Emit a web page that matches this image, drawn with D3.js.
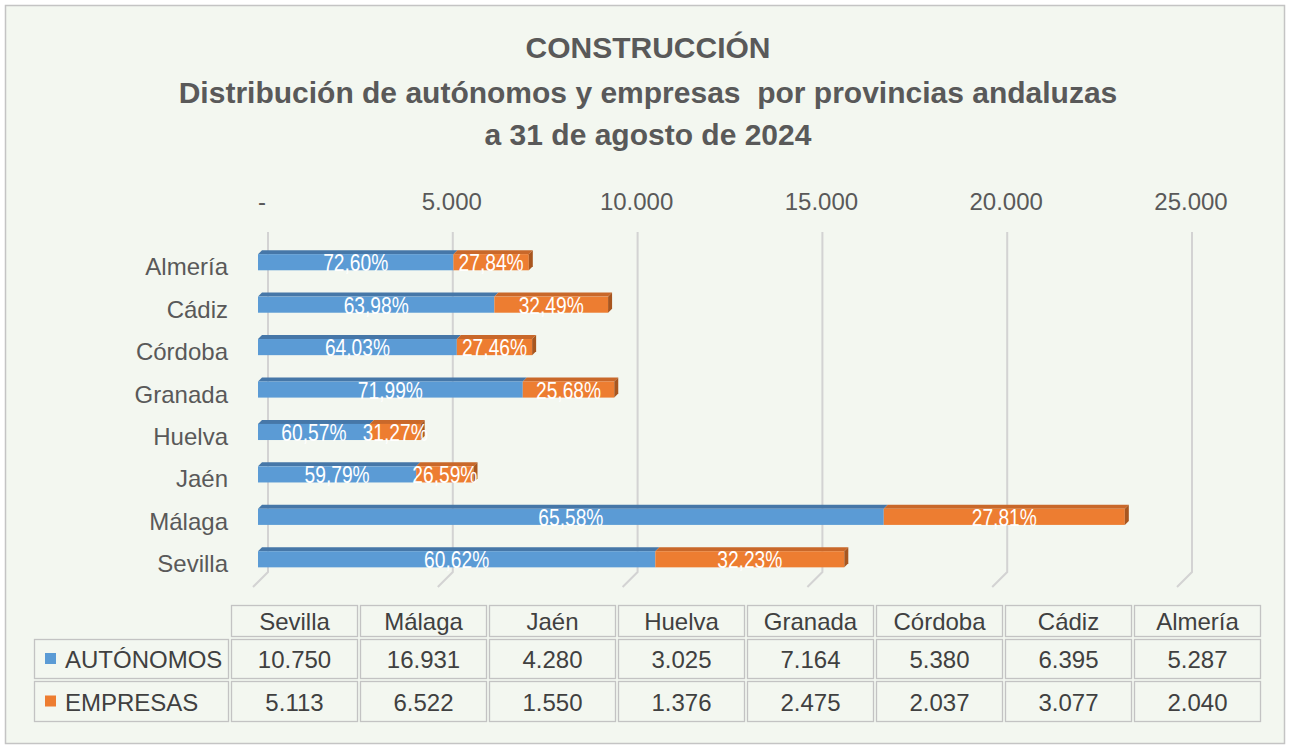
<!DOCTYPE html>
<html>
<head>
<meta charset="utf-8">
<script src="https://cdnjs.cloudflare.com/ajax/libs/d3/7.8.5/d3.min.js"></script>
<style>
  body { margin: 0; background: #ffffff; }
  svg { display: block; }
</style>
</head>
<body>
<script>
// chart data
var provincias = ["Almería", "Cádiz", "Córdoba", "Granada", "Huelva", "Jaén", "Málaga", "Sevilla"];
var autonomos  = [5287, 6395, 5380, 7164, 3025, 4280, 16931, 10750];
var empresas   = [2040, 3077, 2037, 2475, 1376, 1550, 6522, 5113];
var pctAutonomos = ["72,60%", "63,98%", "64,03%", "71,99%", "60,57%", "59,79%", "65,58%", "60,62%"];
var pctEmpresas  = ["27,84%", "32,49%", "27,46%", "25,68%", "31,27%", "26,59%", "27,81%", "32,23%"];
var ticks = [0, 5000, 10000, 15000, 20000, 25000];
// table goes the other way round
var tablaOrden = ["Sevilla", "Málaga", "Jaén", "Huelva", "Granada", "Córdoba", "Cádiz", "Almería"];
var series = ["AUTÓNOMOS", "EMPRESAS"];

var w = 1291, h = 749;
var azul = "#5b9bd5", azulTop = "#4677a8";
var naranja = "#ed7d31", naranjaTop = "#c9682a", naranjaSide = "#a8561f";
var gris = "#595959";
var depth = 4;     // bar depth
var wall = 10;     // gridlines sit back on the wall

var svg = d3.select("body").append("svg").attr("width", w).attr("height", h);

svg.append("rect").attr("x", 0).attr("y", 0).attr("width", w).attr("height", h).attr("fill", "#ffffff");
svg.append("rect").attr("x", 5.5).attr("y", 5.5).attr("width", 1279).attr("height", 738)
  .attr("fill", "#f3f7f0").attr("stroke", "#c4c4c4").attr("stroke-width", 1.5);

// titles
var titulos = ["CONSTRUCCIÓN", "Distribución de autónomos y empresas  por provincias andaluzas", "a 31 de agosto de 2024"];
var tituloY = [58, 103, 145];
svg.selectAll(".titulo").data(titulos).enter().append("text")
  .attr("class", "titulo")
  .attr("x", 648).attr("y", function(d, i) { return tituloY[i]; })
  .attr("text-anchor", "middle")
  .attr("font-family", "Liberation Sans, Arial, sans-serif")
  .attr("font-weight", "bold")
  .attr("font-size", "30px")
  .attr("fill", gris)
  .style("white-space", "pre")
  .text(function(d) { return d; });

var x = d3.scaleLinear().domain([0, 25000]).range([258, 1182]);
var y = d3.scaleBand().domain(provincias).range([241, 580.5]).paddingInner(0.62).paddingOuter(0.31);

// gridlines on the back wall + floor diagonals
var grid = svg.append("g");
ticks.forEach(function(t) {
  var xb = x(t) + wall;
  grid.append("path")
    .attr("d", "M" + xb + ",232 L" + xb + ",572 L" + (xb - 15) + ",587")
    .attr("fill", "none").attr("stroke", "#d3d3d3").attr("stroke-width", 2);
});

// tick labels on top
svg.selectAll(".tick").data(ticks).enter().append("text")
  .attr("class", "tick")
  .attr("x", function(d) { return d === 0 ? x(d) + 4 : x(d) + wall - 1; })
  .attr("y", 210)
  .attr("text-anchor", "middle")
  .attr("font-family", "Liberation Sans, Arial, sans-serif")
  .attr("font-size", "24px")
  .attr("fill", gris)
  .text(function(d) { return d === 0 ? "-" : d3.format(",")(d).replace(/,/g, "."); });

// category labels
svg.selectAll(".cat").data(provincias).enter().append("text")
  .attr("class", "cat")
  .attr("x", 228)
  .attr("y", function(d) { return y(d) + y.bandwidth() / 2 + 13; })
  .attr("text-anchor", "end")
  .attr("font-family", "Liberation Sans, Arial, sans-serif")
  .attr("font-size", "24px")
  .attr("fill", gris)
  .text(function(d) { return d; });

// bars
var bh = y.bandwidth();
var bars = svg.append("g");
provincias.forEach(function(p, i) {
  var y0 = y(p);
  var segs = [
    { x0: x(0), x1: x(autonomos[i]), fill: azul, top: azulTop, lab: pctAutonomos[i] },
    { x0: x(autonomos[i]), x1: x(autonomos[i] + empresas[i]), fill: naranja, top: naranjaTop, lab: pctEmpresas[i] }
  ];
  segs.forEach(function(s) {
    bars.append("path")
      .attr("d", "M" + s.x0 + "," + y0 + " L" + (s.x0 + depth) + "," + (y0 - depth) +
                 " L" + (s.x1 + depth) + "," + (y0 - depth) + " L" + s.x1 + "," + y0 + "Z")
      .attr("fill", s.top);
    bars.append("rect")
      .attr("x", s.x0).attr("y", y0).attr("width", s.x1 - s.x0).attr("height", bh)
      .attr("fill", s.fill);
  });
  var xe = segs[1].x1;
  bars.append("path")
    .attr("d", "M" + xe + "," + y0 + " L" + (xe + depth) + "," + (y0 - depth) +
               " L" + (xe + depth) + "," + (y0 + bh - depth) + " L" + xe + "," + (y0 + bh) + "Z")
    .attr("fill", naranjaSide);
  // narrow white labels (squeezed horizontally, no narrow font here)
  segs.forEach(function(s) {
    bars.append("text")
      .attr("transform", "translate(" + ((s.x0 + s.x1) / 2) + "," + (y0 + bh / 2 + 9) + ") scale(0.8,1)")
      .attr("text-anchor", "middle")
      .attr("font-family", "Liberation Sans, Arial, sans-serif")
      .attr("font-size", "24px")
      .attr("fill", "#ffffff")
      .text(s.lab);
  });
});

// data table
var colX = d3.scaleBand().domain(tablaOrden).range([230, 1262]);
var filas = [604, 638, 680, 723];
var tabla = svg.append("g")
  .attr("font-family", "Liberation Sans, Arial, sans-serif")
  .attr("font-size", "24px")
  .attr("fill", "#404040");

function celda(x0, y0, ww, hh) {
  tabla.append("rect")
    .attr("x", x0 + 1.5).attr("y", y0 + 1.5).attr("width", ww - 3).attr("height", hh - 3)
    .attr("fill", "none").attr("stroke", "#c3c3c3").attr("stroke-width", 1.3);
}

tablaOrden.forEach(function(p) {
  celda(colX(p), filas[0], colX.bandwidth(), filas[1] - filas[0]);
  tabla.append("text").attr("x", colX(p) + colX.bandwidth() / 2).attr("y", filas[1] - 8)
    .attr("text-anchor", "middle").text(p);
});

var valores = [autonomos, empresas];
var colores = [azul, naranja];
series.forEach(function(s, r) {
  var yt = filas[r + 1], hh = filas[r + 2] - filas[r + 1];
  celda(33, yt, 230 - 33, hh);
  tabla.append("rect").attr("x", 45).attr("y", yt + hh / 2 - 6).attr("width", 11).attr("height", 11)
    .attr("fill", colores[r]);
  tabla.append("text").attr("x", 65).attr("y", yt + hh / 2 + 9).text(s);
  tablaOrden.forEach(function(p) {
    var v = valores[r][provincias.indexOf(p)];
    celda(colX(p), yt, colX.bandwidth(), hh);
    tabla.append("text").attr("x", colX(p) + colX.bandwidth() / 2).attr("y", yt + hh / 2 + 9)
      .attr("text-anchor", "middle")
      .text(d3.format(",")(v).replace(/,/g, "."));
  });
});
</script>
</body>
</html>
